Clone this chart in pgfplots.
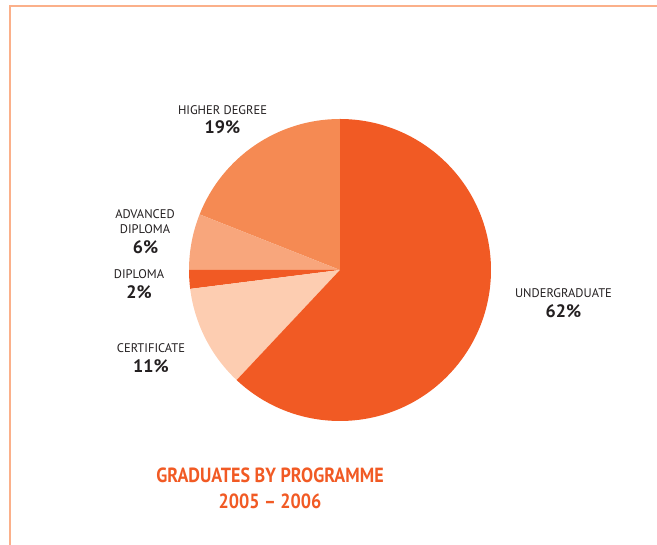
\documentclass[border=0pt]{standalone}
\usepackage{pgfplots}
\pgfplotsset{compat=1.18}
\usepackage{pgfplotstable}
\usepackage{fontspec}
\setmainfont{PT Sans}
\definecolor{c1}{HTML}{F15A24}
\definecolor{c2}{HTML}{F58A53}
\definecolor{c3}{HTML}{F8A67C}
\definecolor{c4}{HTML}{FDCDB1}
\definecolor{frame}{HTML}{FBB08A}
\definecolor{txt}{HTML}{231F20}

% shares, counter-clockwise from 12 o'clock
\pgfplotstableread{
pct col
19 c2
6 c3
2 c1
11 c4
62 c1
}\piedata

\newcommand\lab[1]{\fontsize{12.5}{14}\selectfont #1}
\newcommand\pc[1]{\fontsize{18}{20}\selectfont\bfseries #1}

\begin{document}
\begin{tikzpicture}
\begin{axis}[
    width=657pt, height=545pt, scale only axis,
    xmin=0, xmax=657, ymin=0, ymax=545,
    hide axis, clip=false,
]
\draw[frame, line width=1.3pt] (axis cs:10,0) -- (axis cs:10,539) -- (axis cs:657,539);

\def\startang{90}
\pgfplotsforeachungrouped \i in {0,...,4}{%
    \pgfplotstablegetelem{\i}{pct}\of\piedata
    \let\p\pgfplotsretval
    \pgfplotstablegetelem{\i}{col}\of\piedata
    \let\c\pgfplotsretval
    \pgfmathsetmacro\endang{\startang+3.6*\p}%
    \edef\temp{\noexpand\fill[\c] (axis cs:340,275) -- ++(\startang:151pt)
        arc[start angle=\startang, end angle=\endang, radius=151pt] -- cycle;}%
    \temp
    \let\startang\endang
}

\begin{scope}[every node/.style={text=txt, anchor=center, inner sep=0pt}]
\node at (axis cs:222.5,435) {\lab{HIGHER DEGREE}};
\node at (axis cs:222.5,418) {\pc{19\%}};
\node at (axis cs:145,331) {\lab{ADVANCED}};
\node at (axis cs:145,316) {\lab{DIPLOMA}};
\node at (axis cs:145.5,298) {\pc{6\%}};
\node at (axis cs:139,271) {\lab{DIPLOMA}};
\node at (axis cs:139,253) {\pc{2\%}};
\node at (axis cs:151,197) {\lab{CERTIFICATE}};
\node at (axis cs:151,179) {\pc{11\%}};
\node at (axis cs:563.5,252) {\lab{UNDERGRADUATE}};
\node at (axis cs:563.5,234) {\pc{62\%}};
\end{scope}
\node[text=c1, inner sep=0pt, xscale=0.88] at (axis cs:270,70) {\fontsize{20.5}{22}\selectfont\bfseries GRADUATES BY PROGRAMME};
\node[text=c1, inner sep=0pt, xscale=0.88] at (axis cs:270,43.5) {\fontsize{20.5}{22}\selectfont\bfseries 2005 -- 2006};
\end{axis}
\pgfresetboundingbox
\path[use as bounding box] (0,0) rectangle (657pt,545pt);
\end{tikzpicture}
\end{document}
